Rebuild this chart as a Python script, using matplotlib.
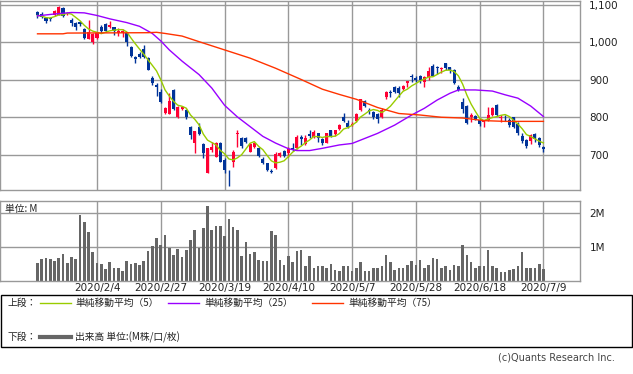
import matplotlib
matplotlib.use('Agg')
import matplotlib.pyplot as plt
from matplotlib.patches import Rectangle
from matplotlib.lines import Line2D
import numpy as np
import pandas as pd

plt.rcParams['font.family'] = ['DejaVu Sans', 'Noto Sans CJK JP']

# ---------------- data ----------------
opens = [1082,1075,1064,1066,1072,1073,1092,1076,1059,1053,
         1055,1035,1008,1002,1011,1042,1048,1040,1040,1024,
         1024,1024,989,962,969,982,959,906,886,868,
         812,810,873,802,821,819,773,732,775,729,
         652,712,695,730,686,652,681,755,744,744,
         708,721,719,688,677,657,665,697,710,705,
         717,717,748,728,754,746,757,741,732,766,
         755,768,802,784,779,791,819,843,819,815,
         809,800,855,868,880,879,876,892,909,904,
         909,895,907,937,933,928,944,933,926,882,
         842,830,801,803,793,787,793,806,833,799,
         802,793,800,782,750,739,737,755,744,721]
closes = [1072,1069,1058,1062,1084,1094,1071,1078,1051,1040,
          1049,1011,1029,1022,1024,1031,1031,1047,1031,1031,
          1031,1001,964,955,960,962,926,891,880,842,
          826,844,821,828,828,800,753,763,755,704,
          719,721,732,681,659,650,708,759,723,735,
          728,730,696,678,659,655,702,705,697,714,
          715,746,741,744,751,761,744,730,757,750,
          766,779,791,775,782,808,848,830,817,800,
          796,819,868,864,868,864,883,897,907,900,
          900,907,924,910,931,932,931,926,891,873,
          821,784,806,794,782,790,806,824,806,800,
          800,779,773,757,737,723,753,741,726,714]
highs = [1084,1082,1069,1069,1087,1098,1094,1080,1065,1055,
         1058,1038,1060,1026,1028,1047,1051,1056,1042,1038,
         1035,1027,991,964,975,993,962,910,891,875,
         827,866,875,830,830,821,777,763,784,730,
         719,735,735,735,690,659,712,766,748,748,
         730,735,721,695,678,663,708,708,712,721,
         732,752,752,752,766,766,758,744,758,767,
         767,782,811,793,786,811,850,846,826,818,
         812,826,870,874,884,884,885,898,916,910,
         913,909,935,942,937,935,946,935,928,886,
         851,833,811,806,795,793,828,827,835,806,
         806,797,802,788,759,741,755,759,746,723]
lows = [1065,1065,1053,1058,1071,1073,1069,1073,1044,1033,
        1044,1008,1008,995,1008,1024,1029,1038,1020,1017,
        1015,991,962,944,958,958,925,886,858,839,
        810,810,819,797,819,795,741,705,752,690,
        652,708,695,681,652,615,668,721,717,730,
        708,717,693,676,657,650,663,695,695,695,
        711,714,726,726,744,744,735,726,730,748,
        750,766,788,770,777,788,818,827,809,795,
        784,798,849,853,866,855,874,880,895,895,
        891,882,900,909,916,919,926,919,889,871,
        812,782,786,793,777,775,791,803,803,788,
        791,773,770,753,730,717,728,735,721,708]
volumes_m = [0.51,0.64,0.67,0.64,0.59,0.67,0.79,0.51,0.70,0.64,
             1.95,1.72,1.44,0.84,0.51,0.49,0.34,0.55,0.38,0.38,
             0.28,0.57,0.50,0.51,0.46,0.59,0.88,1.03,1.25,1.05,
             1.35,0.97,0.76,0.93,0.71,0.91,1.19,1.50,0.95,1.56,
             2.19,1.49,1.62,1.62,1.33,1.83,1.59,1.49,0.73,1.15,
             0.79,0.85,0.61,0.57,0.57,1.45,1.35,0.61,0.47,0.73,
             0.55,0.88,0.91,0.44,0.73,0.38,0.44,0.42,0.38,0.50,
             0.32,0.28,0.44,0.44,0.30,0.38,0.55,0.30,0.30,0.36,
             0.38,0.44,0.76,0.55,0.32,0.38,0.38,0.46,0.57,0.46,
             0.61,0.38,0.46,0.67,0.65,0.36,0.44,0.32,0.46,0.44,
             1.06,0.76,0.55,0.36,0.44,0.42,0.91,0.42,0.38,0.26,
             0.26,0.32,0.34,0.42,0.85,0.38,0.38,0.38,0.50,0.34]

# moving averages (candle index, value)
ma25_idx = [0,4,8,11,14,17,21,24,27,29,31,34,38,41,44,47,50,53,56,59,61,64,
            67,71,74,76,80,84,88,91,94,97,99,103,107,110,113,116,119]
ma25_val = [1071,1076,1080,1079,1072,1063,1053,1043,1024,1004,980,950,914,878,832,801,775,749,731,716,711,711,
            717,726,730,739,757,779,806,824,846,864,873,873,870,860,851,830,802]
ma75_idx = [0,6,7,26,28,30,34,38,44,50,56,59,62,67,71,75,80,85,90,95,100,105,110,119]
ma75_val = [1023,1023,1025,1026,1027,1024,1017,1002,980,958,931,916,901,875,861,848,826,810,806,800,798,791,789,789]

tick_idx = [14, 29, 44, 59, 74, 89, 104, 119]
tick_labels = ['2020/2/4', '2020/2/27', '2020/3/19', '2020/4/10',
               '2020/5/7', '2020/5/28', '2020/6/18', '2020/7/9']
price_ticks = [700, 800, 900, 1000, 1100]
vol_ticks = [1, 2]

# ---------------- style ----------------
RED = '#ff0033'
BLUE = '#003399'
C_MA5 = '#99cc00'
C_MA25 = '#9900ff'
C_MA75 = '#ff3300'
GRID = '#999999'
VOLC = '#666666'
TXT = '#222222'

W, H = 633, 374
fig = plt.figure(figsize=(W / 100, H / 100), dpi=100)

def fx(px):
    return px / W

def fy(py):
    return 1 - py / H

ax = fig.add_axes([0, fy(190.3), 580 / W, (190.3 - 0.7) / H])
axv = fig.add_axes([0, fy(280.7), 580 / W, (280.7 - 201.3) / H])

o = np.array(opens, float)
c = np.array(closes, float)
h = np.array(highs, float)
l = np.array(lows, float)
idx = np.arange(len(c))
cols = np.where(c >= o, RED, BLUE)

XL = (-8.82, 127.6)

# price panel
ax.vlines(idx, l, h, colors=cols, lw=1.0, zorder=2)
ax.bar(idx, np.maximum(np.abs(c - o), 1.3), bottom=np.minimum(o, c), width=0.72,
       color=cols, linewidth=0, zorder=2)
ma5 = pd.Series(c).rolling(5, min_periods=1).mean()
ax.plot(idx, ma5, color=C_MA5, lw=1.0, zorder=3)
ax.plot(ma25_idx, ma25_val, color=C_MA25, lw=1.0, zorder=3)
ax.plot(ma75_idx, ma75_val, color=C_MA75, lw=1.0, zorder=3)
ax.set_xlim(*XL)
ax.set_ylim(604.8, 1111.5)
ax.set_xticks(tick_idx)
ax.set_yticks(price_ticks)
ax.set_yticklabels([f'{v:,}' for v in price_ticks])
ax.yaxis.tick_right()
ax.tick_params(axis='y', length=0, pad=6.5, labelsize=7.5, labelcolor=TXT)
ax.tick_params(axis='x', length=0, labelbottom=False)
ax.grid(True, color=GRID, lw=1.0)
ax.set_axisbelow(True)
for s in ax.spines.values():
    s.set_color(GRID)
    s.set_linewidth(1.0)

# volume panel
axv.bar(idx, volumes_m, width=0.62, color=VOLC, linewidth=0, zorder=2)
axv.set_xlim(*XL)
axv.set_ylim(0, 2.34)
axv.set_xticks(tick_idx)
axv.set_xticklabels(tick_labels)
axv.set_yticks(vol_ticks)
axv.set_yticklabels([f'{v}M' for v in vol_ticks])
axv.yaxis.tick_right()
axv.tick_params(axis='y', length=0, pad=7, labelsize=7.5, labelcolor=TXT)
axv.tick_params(axis='x', length=0, pad=2, labelsize=7.5, labelcolor=TXT)
axv.grid(True, color=GRID, lw=1.0)
axv.set_axisbelow(True)
for s in axv.spines.values():
    s.set_color(GRID)
    s.set_linewidth(1.0)

CJK = ['Noto Sans CJK JP', 'DejaVu Sans']
fig.text(fx(5), fy(209), '単位: M', family=CJK, fontsize=7, color=TXT, va='center')

# legend box
fig.add_artist(Rectangle((fx(0.5), fy(347)), fx(631.5), (347 - 295) / H,
                         transform=fig.transFigure, fill=False, edgecolor='black', lw=1.0))
row1, row2 = 303, 337
fig.text(fx(8), fy(row1), '上段：', family=CJK, fontsize=7, color=TXT, va='center')
fig.text(fx(8), fy(row2), '下段：', family=CJK, fontsize=7, color=TXT, va='center')
legend_items = [(40, 71, C_MA5, '単純移動平均（5）', 75),
                (168, 199, C_MA25, '単純移動平均（25）', 204),
                (312, 343, C_MA75, '単純移動平均（75）', 348)]
for x0, x1, col, lab, tx in legend_items:
    fig.add_artist(Line2D([fx(x0), fx(x1)], [fy(row1), fy(row1)], color=col, lw=1.0,
                          transform=fig.transFigure))
    fig.text(fx(tx), fy(row1), lab, family=CJK, fontsize=7, color=TXT, va='center')
fig.add_artist(Line2D([fx(40), fx(71)], [fy(row2), fy(row2)], color=VOLC, lw=3.0,
                      transform=fig.transFigure))
fig.text(fx(75), fy(row2), '出来高 単位:(M株/口/枚)', family=CJK, fontsize=7, color=TXT, va='center')

fig.text(fx(615), fy(358), '(c)Quants Research Inc.', fontsize=7, color='#444444',
         ha='right', va='center')

fig.savefig('out.png', dpi=100, facecolor='white')
